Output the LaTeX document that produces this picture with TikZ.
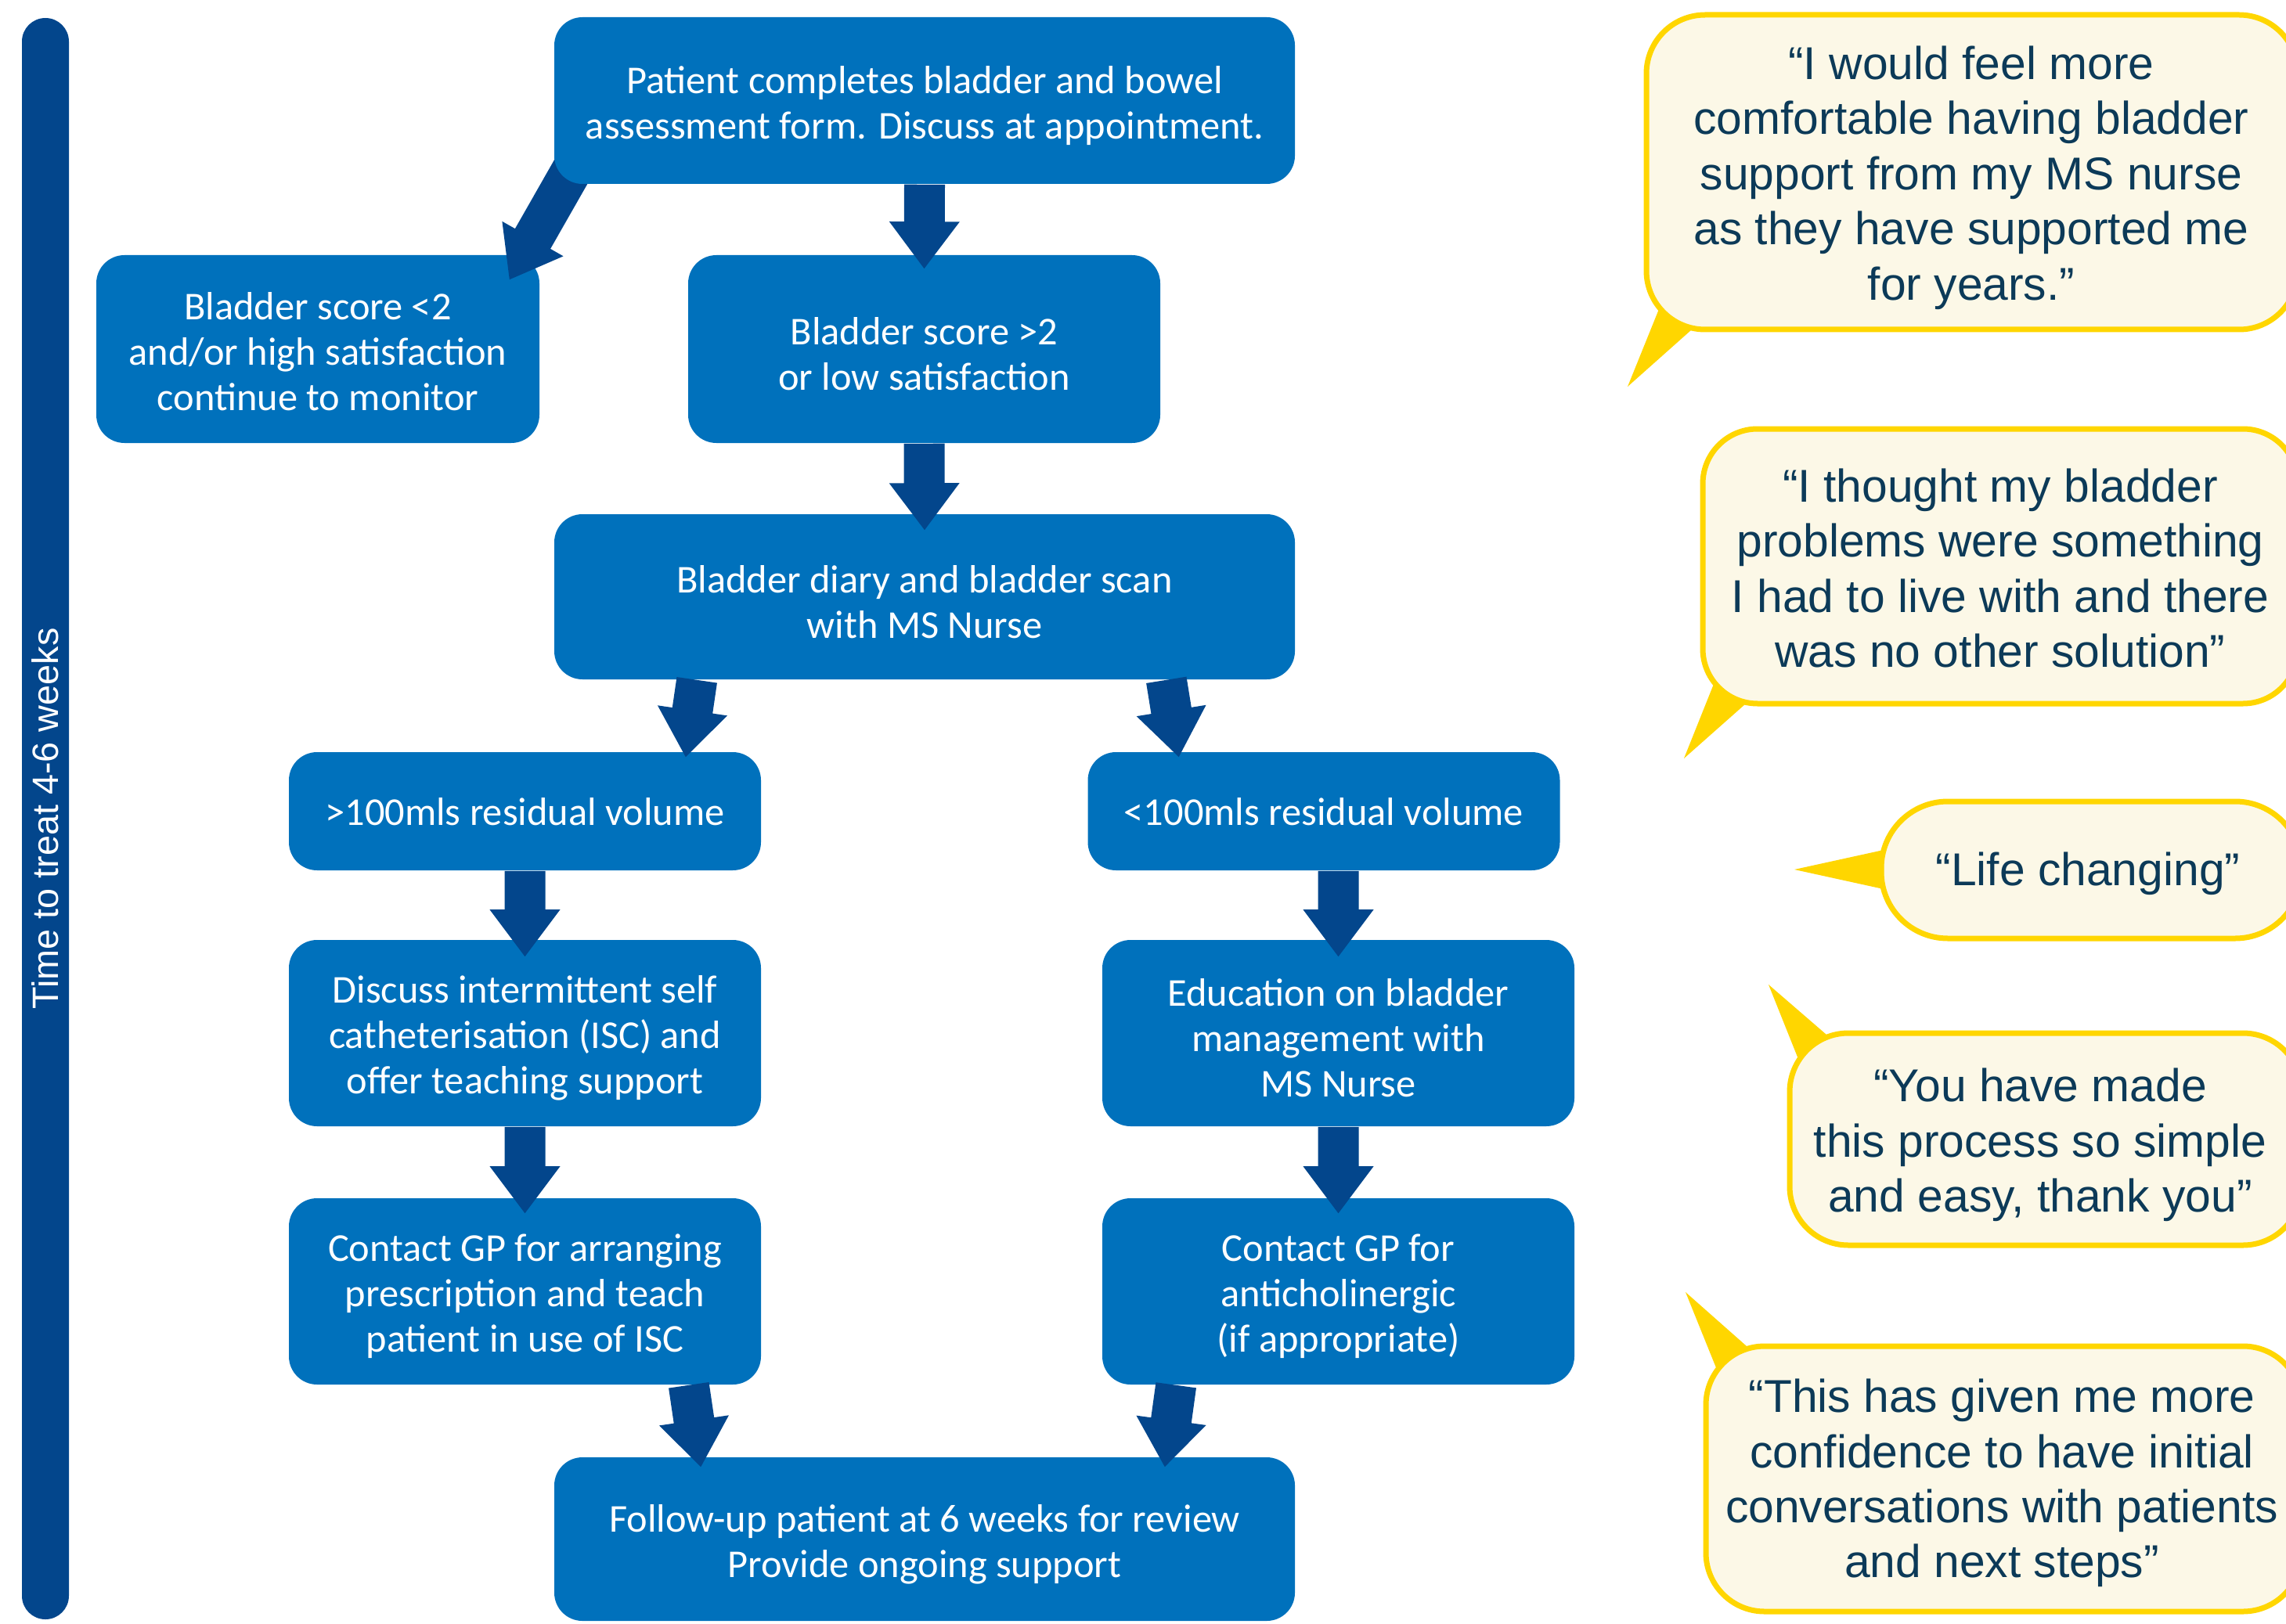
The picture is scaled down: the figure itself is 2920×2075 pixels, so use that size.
\documentclass[tikz,border=0pt]{standalone}
\usepackage{fontspec}
\setmainfont{Carlito}
\newfontfamily\quotefont{Liberation Sans}
\usetikzlibrary{calc}
\definecolor{boxblue}{HTML}{0071BC}
\definecolor{arrowblue}{HTML}{03468C}
\definecolor{bubblefill}{HTML}{FCF8E7}
\definecolor{bubbleline}{HTML}{FFD600}
\definecolor{quotetext}{HTML}{0C3A58}
\pgfdeclarelayer{low}
\pgfdeclarelayer{mid}
\pgfsetlayers{low,mid,main}
\newcommand\blockarrow[2]{%
  \coordinate (bas) at #1;
  \coordinate (bae) at #2;
  \coordinate (bah) at ($(bae)!15pt!(bas)$);
  \fill[arrowblue] ($(bas)!6.5pt!90:(bae)$) -- ($(bah)!6.5pt!-90:(bas)$)
    -- ($(bah)!11.25pt!-90:(bas)$) -- (bae) -- ($(bah)!11.25pt!90:(bas)$)
    -- ($(bah)!6.5pt!90:(bas)$) -- ($(bas)!6.5pt!-90:(bae)$) -- cycle;
}
\begin{document}
\begin{tikzpicture}[x=0.25pt,y=-0.25pt,
  flowbox/.style={fill=boxblue, rounded corners=9pt, inner sep=0pt,
    minimum width=150.75pt, minimum height=59.5pt},
  widebox/.style={flowbox, minimum width=236.5pt},
  boxtext/.style={inner sep=0pt, text=white, align=center, yshift=-1.6pt,
    font=\fontsize{12.6pt}{14.5pt}\selectfont},
  bubble/.style={fill=bubblefill, draw=bubbleline, line width=1.75pt, rounded corners=18.75pt},
  tail/.style={fill=bubbleline},
  quote/.style={inner sep=0pt, align=center, text=quotetext,
    font=\quotefont\fontsize{14.7pt}{17.6pt}\selectfont},
  timebar/.style={fill=arrowblue, rounded corners=7.5pt, inner sep=0pt, text=white,
    minimum width=511.5pt, minimum height=15pt, rotate=90,
    font=\quotefont\fontsize{11.7pt}{14pt}\selectfont}
]
\useasboundingbox (0,0) rectangle (2920,2075);

% time bar
\node[timebar] (bar) at (58,1046) {Time to treat 4-6 weeks};

% flow boxes
\begin{pgfonlayer}{low}
\node[flowbox, minimum width=141.5pt, minimum height=60pt,
  label={[boxtext, yshift=0.9pt]center:{Bladder score <2\\and/or high satisfaction\\continue to monitor}}] (b2) at (406,446) {};
\end{pgfonlayer}
\node[widebox, minimum height=53.25pt,
  label={[boxtext]center:{Patient completes bladder and bowel\\assessment form. Discuss at appointment.}}] (b1) at (1181,128.5) {};
\node[flowbox, minimum height=60pt,
  label={[boxtext]center:{Bladder score >2\\or low satisfaction}}] (b3) at (1180.5,446) {};
\node[widebox, minimum height=52.75pt,
  label={[boxtext]center:{Bladder diary and bladder scan\\with MS Nurse}}] (b4) at (1181,762.5) {};
\node[flowbox, minimum height=37.75pt,
  label={[boxtext, yshift=1.4pt]center:{>100mls residual volume}}] (b5) at (670.5,1036.5) {};
\node[flowbox, minimum height=37.75pt,
  label={[boxtext, yshift=1.4pt]center:{<100mls residual volume}}] (b6) at (1691,1036.5) {};
\node[flowbox,
  label={[boxtext]center:{Discuss intermittent self\\catheterisation (ISC) and\\offer teaching support}}] (b7) at (670.5,1320) {};
\node[flowbox,
  label={[boxtext]center:{Education on bladder\\management with\\MS Nurse}}] (b8) at (1709.5,1320) {};
\node[flowbox,
  label={[boxtext]center:{Contact GP for arranging\\prescription and teach\\patient in use of ISC}}] (b9) at (670.5,1650) {};
\node[flowbox,
  label={[boxtext]center:{Contact GP for\\anticholinergic\\(if appropriate)}}] (b10) at (1709.5,1650) {};
\node[widebox, minimum height=52.25pt,
  label={[boxtext]center:{Follow-up patient at 6 weeks for review\\Provide ongoing support}}] (b11) at (1181,1966.5) {};

% arrows
\begin{pgfonlayer}{mid}
\blockarrow{([xshift=7.75pt,yshift=8pt]b1.south west)}{([xshift=-9.75pt,yshift=-8pt]b2.north east)}
\end{pgfonlayer}
\blockarrow{(b1.south)}{([yshift=-4.5pt]b3.north)}
\blockarrow{(b3.south)}{([yshift=-5.25pt]b4.north)}
\blockarrow{([xshift=45.75pt]b4.south west)}{([xshift=-24.25pt,yshift=-1.75pt]b5.north east)}
\blockarrow{([xshift=-41.25pt]b4.south east)}{([xshift=29.25pt,yshift=-1.75pt]b6.north west)}
\blockarrow{(b5.south)}{([yshift=-5.5pt]b7.north)}
\blockarrow{(b6.south -| b8.north)}{([yshift=-5.5pt]b8.north)}
\blockarrow{(b7.south)}{([yshift=-5pt]b9.north)}
\blockarrow{(b8.south)}{([yshift=-5pt]b10.north)}
\blockarrow{([xshift=-23.25pt]b9.south east)}{([xshift=47pt,yshift=-3.25pt]b11.north west)}
\blockarrow{([xshift=23.75pt]b10.south west)}{([xshift=-41.75pt,yshift=-3.25pt]b11.north east)}

% speech bubbles
\draw[bubble] (2103,19) rectangle (2935,421);
\fill[tail] (2119,395) -- (2079,494) -- (2161,421) -- cycle;
\draw[bubble, rounded corners=17.5pt] (2175,548) rectangle (2935,899);
\fill[tail] (2189,874) -- (2151,969) -- (2230,899) -- cycle;
\draw[bubble, rounded corners=21.25pt] (2403,1024) rectangle (2940,1199);
\fill[tail] (2406,1086) -- (2292,1111) -- (2406,1136) -- cycle;
\draw[bubble] (2286,1320) rectangle (2940,1591);
\fill[tail] (2297,1353) -- (2259,1258) -- (2333,1322) -- cycle;
\draw[bubble] (2179,1720) rectangle (2940,2059);
\fill[tail] (2193,1750) -- (2153,1651) -- (2231,1720) -- cycle;

\node[quote] (q1) at (2518,227) {“I would feel more\\comfortable having bladder\\support from my MS nurse\\as they have supported me\\for years.”};
\node[quote] (q2) at (2555,726) {“I thought my bladder\\problems were something\\I had to live with and there\\was no other solution”};
\node[quote] (q3) at (2667,1116) {“Life changing”};
\node[quote] (q4) at (2606,1463) {“You have made\\this process so simple\\and easy, thank you”};
\node[quote] (q5) at (2557,1895) {“This has given me more\\confidence to have initial\\conversations with patients\\and next steps”};
\end{tikzpicture}
\end{document}
